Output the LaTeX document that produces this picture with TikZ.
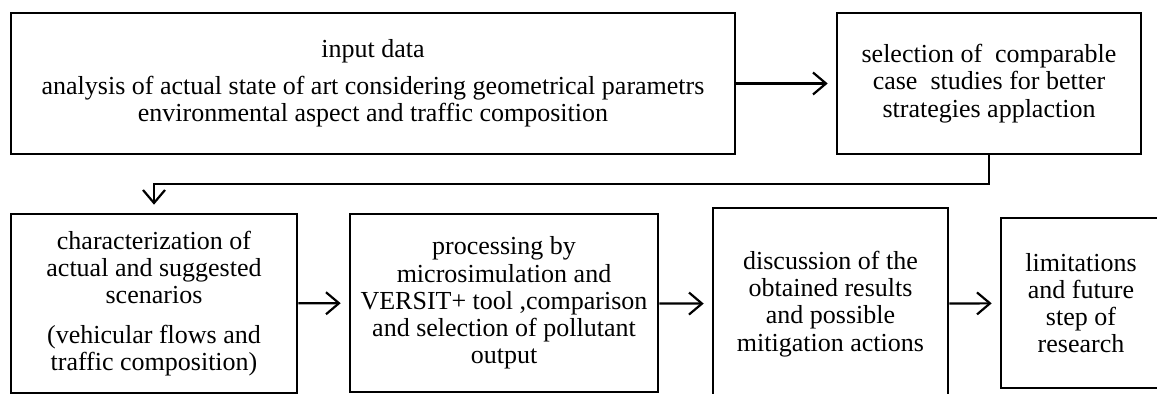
\documentclass[tikz,border=0pt]{standalone}
\usepackage{fontspec}
\setmainfont{Liberation Serif}
\usepackage{tikz}
\usetikzlibrary{arrows.meta}

\begin{document}
\begin{tikzpicture}[
	stepbox/.style = {draw, line width = 1.3pt, align = center, inner sep = 2pt, font = \fontsize{13}{13.6}\selectfont},
	>={Straight Barb[length=6.5pt,width=11pt]},
	link/.style = {->, line width = 1.1pt, shorten >= 4pt}]
			\useasboundingbox (0,0) rectangle (578.5pt,-197pt);
			\clip (0,0) rectangle (578.5pt,-197pt);
			
			\node[stepbox, xshift = 186.5pt, yshift = -41.75pt, minimum width = 362pt, minimum height = 70.5pt] (n1){input data\\[5pt] analysis of actual state of art considering geometrical parametrs\\ environmental aspect and traffic composition};
			\node[stepbox, xshift = 494.5pt, yshift = -41.75pt, minimum width = 152pt, minimum height = 70.5pt] (n2){selection of\ \ comparable\\ case\ \ studies for better\\ strategies applaction};
			\node[stepbox, xshift = 77pt, yshift = -151.75pt, minimum width = 143pt, minimum height = 89.5pt] (n3){characterization of\\ actual and suggested\\ scenarios\\[6pt] (vehicular flows and\\ traffic composition)};
			\node[stepbox, xshift = 252pt, yshift = -151.5pt, minimum width = 154pt, minimum height = 89pt] (n4){processing by\\ microsimulation and\\ VERSIT+ tool ,comparison\\ and selection of pollutant\\ output};
			\node[stepbox, xshift = 415.25pt, yshift = -152pt, minimum width = 117.5pt, minimum height = 96pt] (n5){discussion of the\\ obtained results\\ and possible\\ mitigation actions};
			\node[stepbox, xshift = 540.5pt, yshift = -151.5pt, minimum width = 80pt, minimum height = 85pt] (n6){limitations\\ and future\\ step of\\ research};
			
			\coordinate (c1) at (0,-92pt);
			
			\draw[link] (n1) -- (n2);
			\draw[link] (n2.south) -- (n2.south |- c1) -| (n3.north);
			
			\draw[link] (n3) -- (n4);
			\draw[link] (n4) -- (n5);
			\draw[link] (n5) -- (n6);
			
			\end{tikzpicture}
\end{document}
